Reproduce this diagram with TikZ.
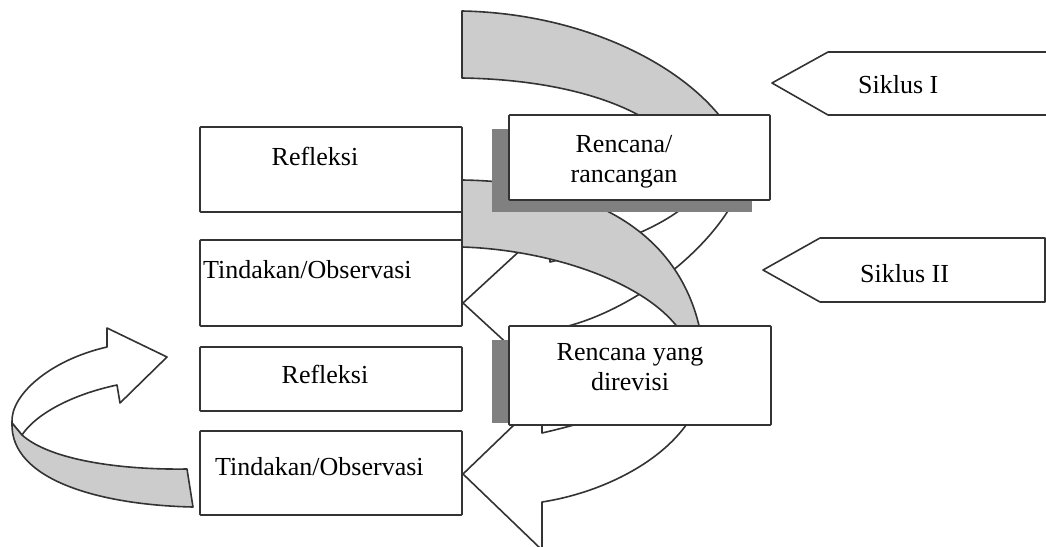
\documentclass[tikz,border=0pt]{standalone}
\usepackage{fontspec}
\setmainfont{Liberation Serif}
\usetikzlibrary{calc}

\begin{document}
\begin{tikzpicture}[x=1pt,y=-1pt,
    box/.style={draw=black!80,line width=1.7pt,fill=white,inner sep=0pt,rounded corners=0.8pt},
    txt/.style={font=\fontsize{26}{30}\selectfont,inner sep=0pt,align=center},
    back/.style={draw=black!80,line width=1.6pt,line join=round,fill=gray!40},
    front/.style={draw=black!80,line width=1.6pt,line join=round,fill=white},
    shade/.style={fill=gray}]
\useasboundingbox (0,0) rectangle (1046,546);
% siklus I arrow
\draw[front] (745,165) .. controls (742,225) and (640,315) .. (550,330) -- (550,383) -- (463,303)
    -- (550,223) -- (550,262) .. controls (620,245) and (680,220) .. (700,190) -- cycle;
\draw[back] (462,11) .. controls (610,14) and (728,90) .. (745,165) -- (700,190)
    .. controls (690,120) and (590,80) .. (462,78) -- cycle;
% siklus II arrow
\draw[front] (705,370) .. controls (705,440) and (620,490) .. (542,502) -- (542,550) -- (463,474)
    -- (542,398) -- (542,433) .. controls (620,415) and (685,390) .. (690,350) -- cycle;
\draw[back] (462,180) .. controls (600,182) and (700,240) .. (705,370) -- (690,350)
    .. controls (670,290) and (560,250) .. (462,247) -- cycle;
% back to the start
\draw[front] (12,423) .. controls (10,395) and (50,360) .. (107,347) -- (107,328) -- (167,357)
    -- (120,403) -- (117,385) .. controls (70,395) and (35,415) .. (22,435) -- cycle;
\draw[back] (12,423) -- (22,435) .. controls (50,460) and (120,470) .. (187,469) -- (193,507)
    .. controls (100,505) and (10,480) .. (12,423) -- cycle;

% left column
\node[box,minimum width=262pt,minimum height=85pt] (refl1) at (331,169.5) {};
\node[box,minimum width=262pt,minimum height=86pt] (tind1) at (331,283) {};
\node[box,minimum width=262pt,minimum height=64pt] (refl2) at (331,379) {};
\node[box,minimum width=262pt,minimum height=84pt] (tind2) at (331,473) {};
\node[txt,anchor=base] (trefl1) at (315,165) {Refleksi};
\node[txt,anchor=base west] (ttind1) at (203,278) {Tindakan/Observasi};
\node[txt,anchor=base] (trefl2) at (325,383) {Refleksi};
\node[txt,anchor=base west] (ttind2) at (215,475) {Tindakan/Observasi};

% plans with shadow
\fill[shade] (492,129) rectangle (752,212);
\fill[shade] (492,340) rectangle (509,423);
\node[box,minimum width=261pt,minimum height=85pt] (renc1) at (639.5,157.5) {};
\node[box,minimum width=262pt,minimum height=99pt] (renc2) at (640,375.5) {};
\node[txt,anchor=base] (trenc1) at (624,182) {Rencana/\\rancangan};
\node[txt,anchor=base] (trenc2) at (630,390) {Rencana yang\\direvisi};

% cycle labels
\draw[front] (1050,52) -- (828,52) -- (772,83) -- (828,115) -- (1050,115);
\draw[front] (1045,238) -- (820,238) -- (763,270) -- (820,302) -- (1045,302) -- cycle;
\node[txt,anchor=base west] (sik1) at (858,93) {Siklus I};
\node[txt,anchor=base west] (sik2) at (860,282) {Siklus II};
\end{tikzpicture}
\end{document}
